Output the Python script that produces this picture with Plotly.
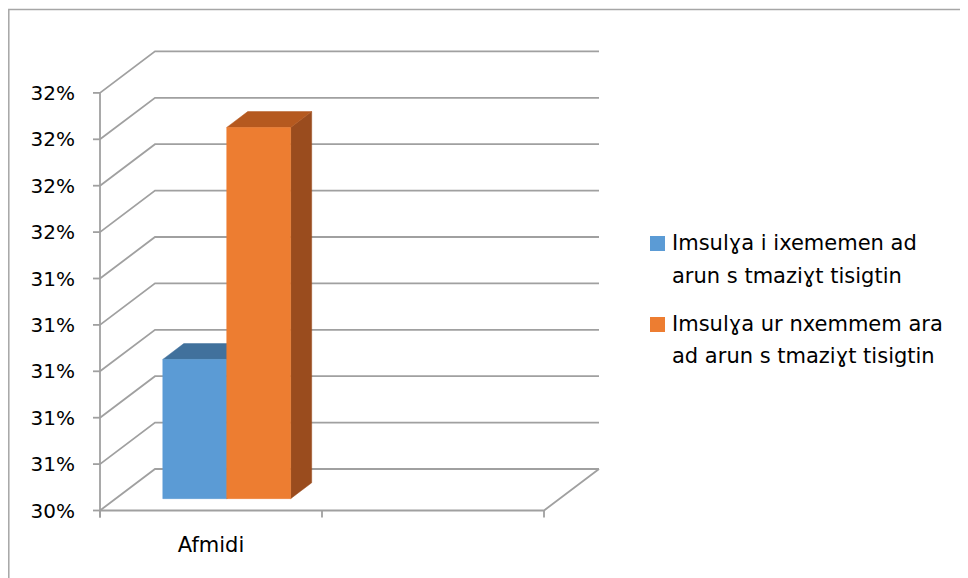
import plotly.graph_objects as go

# ---------------- data ----------------
CATEGORIES = ["Afmidi"]
SERIES_NAMES = [
    "Imsulɣa i ixememen ad<br>arun s tmaziɣt tisigtin",
    "Imsulɣa ur nxemmem ara<br>ad arun s tmaziɣt tisigtin",
]
SERIES_1 = [31.0]
SERIES_2 = [32.0]
Y_TICKS = [30.4, 30.6, 30.8, 31.0, 31.2, 31.4, 31.6, 31.8, 32.0, 32.2]
Y_TICK_LABELS = ["30%", "31%", "31%", "31%", "31%", "31%", "32%", "32%", "32%", "32%"]

# ---------------- styling / geometry ----------------
FRONT_COLORS = ["#5B9BD5", "#ED7D31"]
TOP_COLORS = ["#41719C", "#B5591F"]
SIDE_COLORS = ["#36618A", "#9A4C1E"]
GRID = "#A0A0A0"
FONT = "DejaVu Sans"

OFF = 8  # page body margin: figure origin sits at screen (8, 8)
W_FIG, H_FIG = 960, 570
# screen-pixel targets converted into figure pixels
ML, MR, MT, MB = 90 - OFF, 968 - 612, 40 - OFF, 578 - 522
PW, PH = W_FIG - ML - MR, H_FIG - MT - MB
AX_X = 100 - OFF          # front axis
FLOOR_Y = 510.5 - OFF     # front floor
SLOT_PX = 222.0           # px per category slot
PX_PER_UNIT_Y = 232.0
DX = 55 / SLOT_PX           # depth offset (x units)
DY = 41.5 / PX_PER_UNIT_Y   # depth offset (y units)
N_SLOTS = 2
BAR_W = 0.288
D0, D1 = 0.286, 0.668

ymin = Y_TICKS[0]
x_range = [(ML - AX_X) / SLOT_PX, (ML + PW - AX_X) / SLOT_PX]
y_range = [ymin - (MT + PH - FLOOR_Y) / PX_PER_UNIT_Y, ymin + (FLOOR_Y - MT) / PX_PER_UNIT_Y]


def P(x, v, d):
    return x + d * DX, v + d * DY


fig = go.Figure()


def line(xs, ys, color=GRID, width=1.8):
    fig.add_trace(go.Scatter(x=xs, y=ys, mode="lines", line=dict(color=color, width=width),
                             hoverinfo="skip", showlegend=False))


def poly(pts, color):
    xs = [p[0] for p in pts] + [pts[0][0]]
    ys = [p[1] for p in pts] + [pts[0][1]]
    fig.add_trace(go.Scatter(x=xs, y=ys, mode="lines", fill="toself", fillcolor=color,
                             line=dict(color=color, width=0.5), hoverinfo="skip", showlegend=False))


# walls: side-wall diagonals + back-wall gridlines
for v in Y_TICKS:
    a = P(0, v, 0)
    b = P(0, v, 1)
    c = P(N_SLOTS, v, 1)
    line([a[0], b[0], c[0]], [a[1], b[1], c[1]])

# floor front and right edge
f0 = P(0, ymin, 0)
f1 = P(N_SLOTS, ymin, 0)
f2 = P(N_SLOTS, ymin, 1)
line([f0[0], f1[0], f2[0]], [f0[1], f1[1], f2[1]])

# front vertical axis + ticks
tick_x = 7 / SLOT_PX
tick_y = 7 / PX_PER_UNIT_Y
line([0, 0], [ymin - tick_y, Y_TICKS[-1]])
for v in Y_TICKS:
    line([-tick_x, 0], [v, v])
for k in range(N_SLOTS + 1):
    line([k, k], [ymin, ymin - tick_y])

# bars (3D prisms)
series = [SERIES_1, SERIES_2]
for ci, cat in enumerate(CATEGORIES):
    center = ci + 0.5
    n = len(series)
    for si, vals in enumerate(series):
        v = vals[ci]
        x0 = center - n * BAR_W / 2 + si * BAR_W
        x1 = x0 + BAR_W
        poly([P(x1, ymin, D0), P(x1, v, D0), P(x1, v, D1), P(x1, ymin, D1)], SIDE_COLORS[si])
        poly([P(x0, v, D0), P(x1, v, D0), P(x1, v, D1), P(x0, v, D1)], TOP_COLORS[si])
        poly([P(x0, ymin, D0), P(x1, ymin, D0), P(x1, v, D0), P(x0, v, D0)], FRONT_COLORS[si])


def px_to_paper(sx, sy):
    """screen px -> paper coords"""
    fx, fy = sx - OFF, sy - OFF
    return (fx - ML) / PW, 1 - (fy - MT) / PH


shapes = []
# chart border (runs off the right/bottom edges)
bx0, by0 = px_to_paper(8.8, 9.6)
bx1, by1 = px_to_paper(W_FIG + 40, H_FIG + 40)
shapes.append(dict(type="rect", xref="paper", yref="paper", x0=bx0, y0=by1, x1=bx1, y1=by0,
                   line=dict(color="#A6A6A6", width=1.5), fillcolor="rgba(0,0,0,0)", layer="below"))

# legend (keys + text)
annotations = []
legend_rows = [(236, [243, 276]), (317, [324, 356])]
for si, (sq_y, line_ys) in enumerate(legend_rows):
    sx0, sy0 = px_to_paper(650, sq_y)
    sx1, sy1 = px_to_paper(665, sq_y + 15)
    shapes.append(dict(type="rect", xref="paper", yref="paper", x0=sx0, y0=sy1, x1=sx1, y1=sy0,
                       line=dict(width=0), fillcolor=FRONT_COLORS[si]))
    for li, txt in enumerate(SERIES_NAMES[si].split("<br>")):
        ax, ay = px_to_paper(670, line_ys[li])
        annotations.append(dict(text=txt, xref="paper", yref="paper", x=ax, y=ay,
                                xanchor="left", yanchor="middle", showarrow=False,
                                font=dict(family=FONT, size=21, color="#000000")))

fig.update_layout(
    width=W_FIG, height=H_FIG,
    margin=dict(l=ML, r=MR, t=MT, b=MB),
    paper_bgcolor="white", plot_bgcolor="white",
    showlegend=False,
    shapes=shapes, annotations=annotations,
    font=dict(family=FONT, size=21, color="#000000"),
    xaxis=dict(range=x_range, showgrid=False, zeroline=False, showline=False,
               tickvals=[ci + 0.5 for ci in range(len(CATEGORIES))], ticktext=CATEGORIES,
               ticks="", ticklabelstandoff=8, fixedrange=True,
               tickfont=dict(family=FONT, size=21)),
    yaxis=dict(range=y_range, showgrid=False, zeroline=False, showline=False,
               tickvals=Y_TICKS, ticktext=Y_TICK_LABELS, ticks="", ticklabelstandoff=14,
               fixedrange=True, tickfont=dict(family=FONT, size=20)),
)

fig.write_html("out.html")
